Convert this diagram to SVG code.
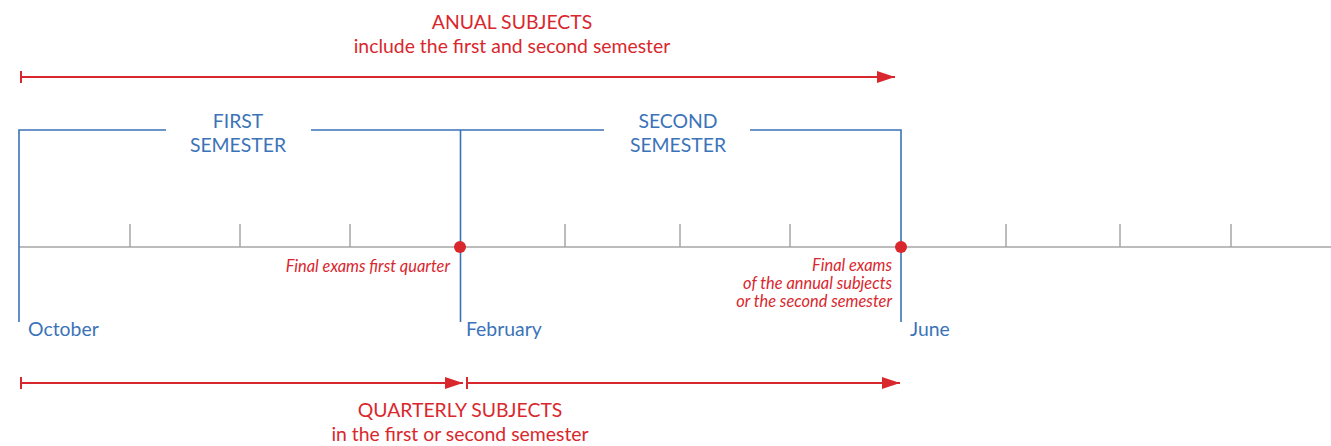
<svg xmlns="http://www.w3.org/2000/svg" width="1331" height="446" viewBox="0 0 1331 446">
<style>
.red{fill:#d9272e}
.blue{fill:#3b73b9}
.t{font-family:Lato,"Open Sans","Liberation Sans",sans-serif}
.big{font-size:19.4px}
.sm{font-size:16.4px;font-style:italic}
.rl{stroke:#d9272e;stroke-width:2;fill:none}
.bl{stroke:#3b73b9;stroke-width:1.6;fill:none}
.gl{stroke:#a6a6a6;stroke-width:1.5;fill:none}
</style>
<defs>
<marker id="ah" viewBox="0 0 18 12" refX="18" refY="6" markerWidth="18" markerHeight="12" markerUnits="userSpaceOnUse" orient="auto">
<path d="M0,0 L18,6 L0,12 Z" fill="#d9272e"/>
</marker>
</defs>
<g id="timeline">
<line class="gl" x1="19" y1="247" x2="1331" y2="247"/>
<g class="gl">
<line x1="130" y1="224" x2="130" y2="247"/>
<line x1="240" y1="224" x2="240" y2="247"/>
<line x1="350" y1="224" x2="350" y2="247"/>
<line x1="565" y1="224" x2="565" y2="247"/>
<line x1="680" y1="224" x2="680" y2="247"/>
<line x1="790" y1="224" x2="790" y2="247"/>
<line x1="1006" y1="224" x2="1006" y2="247"/>
<line x1="1120" y1="224" x2="1120" y2="247"/>
<line x1="1231" y1="224" x2="1231" y2="247"/>
</g>
</g>
<g id="first-semester">
<path class="bl" d="M19,322 V130 H166 M311,130 H460"/>
<text class="t big blue" x="238" y="128" text-anchor="middle">FIRST</text>
<text class="t big blue" x="238" y="152" text-anchor="middle">SEMESTER</text>
</g>
<g id="second-semester">
<path class="bl" d="M460.5,322 V130 H604 M750,130 H901 V322"/>
<text class="t big blue" x="678" y="128" text-anchor="middle">SECOND</text>
<text class="t big blue" x="678" y="152" text-anchor="middle">SEMESTER</text>
</g>
<g id="months">
<text class="t big blue" x="28" y="336">October</text>
<text class="t big blue" x="466" y="336">February</text>
<text class="t big blue" x="910" y="336">June</text>
</g>
<g id="exam1">
<circle cx="460" cy="247" r="6" fill="#d9272e"/>
<text class="t sm red" x="450" y="272" text-anchor="end">Final exams first quarter</text>
</g>
<g id="exam2">
<circle cx="901" cy="247" r="6" fill="#d9272e"/>
<text class="t sm red" x="892" y="271" text-anchor="end">Final exams</text>
<text class="t sm red" x="892" y="289" text-anchor="end">of the annual subjects</text>
<text class="t sm red" x="892" y="307" text-anchor="end">or the second semester</text>
</g>
<g id="annual">
<text class="t big red" x="512" y="29" text-anchor="middle">ANUAL SUBJECTS</text>
<text class="t big red" x="512" y="53" text-anchor="middle">include the first and second semester</text>
</g>
<g id="quarterly">
<text class="t big red" x="460" y="417" text-anchor="middle">QUARTERLY SUBJECTS</text>
<text class="t big red" x="460" y="441" text-anchor="middle">in the first or second semester</text>
</g>
<g id="connectors">
<line class="rl" x1="21" y1="71" x2="21" y2="83" stroke-width="2.5"/>
<line class="rl" x1="21" y1="77" x2="895" y2="77" marker-end="url(#ah)"/>
<line class="rl" x1="21" y1="377" x2="21" y2="389" stroke-width="2.5"/>
<line class="rl" x1="21" y1="383" x2="463" y2="383" marker-end="url(#ah)"/>
<line class="rl" x1="467" y1="377" x2="467" y2="389"/>
<line class="rl" x1="467" y1="383" x2="900" y2="383" marker-end="url(#ah)"/>
</g>
</svg>
